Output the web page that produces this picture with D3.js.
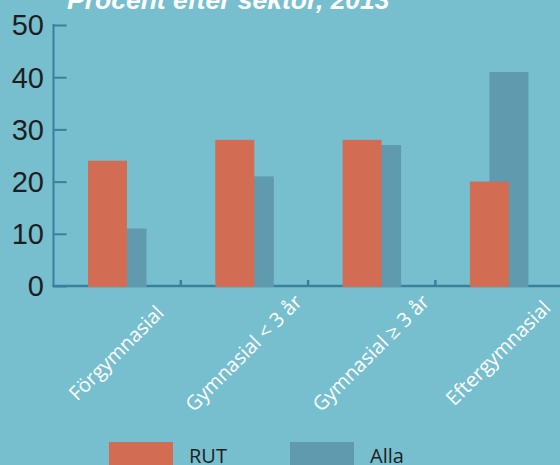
<!DOCTYPE html>
<html>
<head>
<meta charset="utf-8">
<script src="https://cdn.jsdelivr.net/npm/d3@7"></script>
<style>
  html, body { margin: 0; padding: 0; background: #77bfcf; }
  svg { display: block; }
</style>
</head>
<body>
<svg id="chart" width="560" height="465"></svg>
<script>
var categories = ["Förgymnasial", "Gymnasial < 3 år", "Gymnasial \u2265 3 år", "Eftergymnasial"];
var series = ["RUT", "Alla"];
var rutValues = [24, 28, 28, 20];
var allaValues = [11, 21, 27, 41];
var yTicks = [0, 10, 20, 30, 40, 50];
var title = "Procent efter sektor, 2013";

var colors = {"RUT": "#d26c53", "Alla": "#5f9aaf"};
var axisColor = "#3a7f9c";

var svg = d3.select("#chart");

var x = d3.scaleBand().domain(categories).range([53.5, 562.7]).padding(0);
// bars overlap: Alla sits behind RUT, shifted right
var xSub = d3.scalePoint().domain(series).range([34.5, 54]);
var barW = 39;
var y = d3.scaleLinear().domain([0, 50]).range([286, 25]);

var rows = categories.map(function(c, i) {
  return {cat: c, RUT: rutValues[i], Alla: allaValues[i]};
});

// title (cut off at the top, as in the original)
svg.append("text")
    .attr("x", 67)
    .attr("y", 9)
    .attr("fill", "#ffffff")
    .attr("font-family", "Liberation Sans, Arial, sans-serif")
    .attr("font-weight", "bold")
    .attr("font-style", "italic")
    .attr("font-size", 26.5)
    .text(title);

// y axis
var yAxis = svg.append("g")
    .attr("transform", "translate(53.5,0)")
    .call(d3.axisRight(y).tickValues(yTicks).tickSize(13).tickFormat(""));
yAxis.select(".domain").remove();
yAxis.selectAll(".tick line").attr("stroke", axisColor).attr("stroke-width", 2);
svg.append("line")
    .attr("x1", 53.5).attr("x2", 53.5)
    .attr("y1", y(50) - 1).attr("y2", y(0) + 1)
    .attr("stroke", axisColor).attr("stroke-width", 2);

svg.append("g").selectAll("text")
  .data(yTicks)
  .enter().append("text")
    .attr("x", 44)
    .attr("y", function(d) { return y(d); })
    .attr("dy", "0.36em")
    .attr("text-anchor", "end")
    .attr("fill", "#1e1e1e")
    .attr("font-family", "Liberation Sans, Arial, sans-serif")
    .attr("font-size", 29)
    .text(function(d) { return d; });

// x axis line and boundary ticks
svg.append("line")
    .attr("x1", 52.5).attr("x2", 560)
    .attr("y1", y(0)).attr("y2", y(0))
    .attr("stroke", axisColor).attr("stroke-width", 2.5);
svg.append("g").selectAll("line")
  .data(categories.slice(1))
  .enter().append("line")
    .attr("x1", function(d) { return x(d); })
    .attr("x2", function(d) { return x(d); })
    .attr("y1", y(0)).attr("y2", y(0) - 6)
    .attr("stroke", axisColor).attr("stroke-width", 2.5);

// bars, Alla first so RUT draws over it
["Alla", "RUT"].forEach(function(s) {
  svg.append("g").selectAll("rect")
    .data(rows)
    .enter().append("rect")
      .attr("x", function(d) { return x(d.cat) + xSub(s); })
      .attr("y", function(d) { return y(d[s]); })
      .attr("width", barW)
      .attr("height", function(d) { return y(0) - y(d[s]) + 1; })
      .attr("fill", colors[s]);
});

// category labels
svg.append("g").selectAll("text")
  .data(categories)
  .enter().append("text")
    .attr("transform", function(d) {
      return "translate(" + (x(d) + x.bandwidth() / 2 + 4) + ",358) rotate(-45)";
    })
    .attr("text-anchor", "middle")
    .attr("fill", "#ffffff")
    .attr("font-family", "Open Sans, Noto Sans, sans-serif")
    .attr("font-size", 20)
    .text(function(d) { return d; });

// legend (bottom edge cut off, as in the original)
var legendX = [109, 290];
var legend = svg.append("g").selectAll("g")
  .data(series)
  .enter().append("g")
    .attr("transform", function(d, i) { return "translate(" + legendX[i] + ",442)"; });
legend.append("rect")
    .attr("width", 64)
    .attr("height", 30)
    .attr("fill", function(d) { return colors[d]; });
legend.append("text")
    .attr("x", 80)
    .attr("y", 21)
    .attr("fill", "#1e1e1e")
    .attr("font-family", "Open Sans, Noto Sans, sans-serif")
    .attr("font-size", 20)
    .text(function(d) { return d; });
</script>
</body>
</html>
